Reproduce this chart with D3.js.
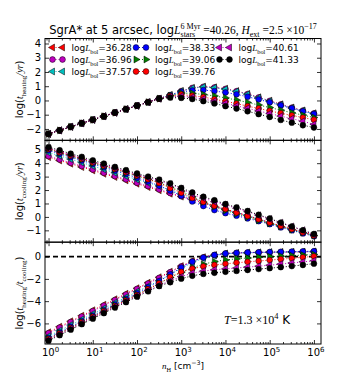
<!DOCTYPE html>
<html>
<head>
<meta charset="utf-8">
<script src="https://cdn.jsdelivr.net/npm/d3@7"></script>
<style>
  html, body { margin: 0; padding: 0; background: #fff; }
  svg { display: block; }
</style>
</head>
<body>
<div id="chart"></div>
<script>
(function() {

    // log10 of n_H grid (quarter decades)
    var logN = [0, 0.25, 0.5, 0.75, 1, 1.25, 1.5, 1.75, 2, 2.25, 2.5, 2.75, 3,
                3.25, 3.5, 3.75, 4, 4.25, 4.5, 4.75, 5, 5.25, 5.5, 5.75, 6];

    var lbol = ["36.28", "36.96", "37.57", "38.33", "39.06", "39.76", "40.61", "41.33"];

    // log(t_heating / yr), one row per L_bol
    var tHeat = [
        [-2.35, -2.1, -1.85, -1.6, -1.36, -1.11, -0.86, -0.61, -0.37, -0.12, 0.13, 0.38, 0.66, 0.88, 0.97, 0.92, 0.82, 0.66, 0.46, 0.22, -0.02, -0.27, -0.5, -0.7, -0.9],
        [-2.35, -2.1, -1.85, -1.6, -1.36, -1.11, -0.86, -0.61, -0.37, -0.12, 0.13, 0.38, 0.66, 0.88, 0.96, 0.91, 0.81, 0.65, 0.45, 0.21, -0.03, -0.28, -0.51, -0.71, -0.91],
        [-2.35, -2.1, -1.85, -1.6, -1.36, -1.11, -0.86, -0.61, -0.37, -0.12, 0.13, 0.37, 0.65, 0.86, 0.94, 0.89, 0.79, 0.63, 0.43, 0.19, -0.05, -0.3, -0.53, -0.73, -0.93],
        [-2.35, -2.1, -1.85, -1.6, -1.36, -1.11, -0.86, -0.61, -0.37, -0.12, 0.13, 0.36, 0.6, 0.7, 0.73, 0.66, 0.56, 0.43, 0.26, 0.07, -0.13, -0.35, -0.55, -0.76, -0.95],
        [-2.35, -2.1, -1.85, -1.6, -1.36, -1.11, -0.86, -0.61, -0.37, -0.12, 0.13, 0.33, 0.52, 0.5, 0.42, 0.32, 0.18, 0.03, -0.14, -0.32, -0.5, -0.68, -0.86, -1.03, -1.2],
        [-2.35, -2.1, -1.85, -1.6, -1.36, -1.11, -0.86, -0.61, -0.37, -0.12, 0.13, 0.3, 0.42, 0.33, 0.24, 0.08, -0.06, -0.22, -0.4, -0.56, -0.73, -0.9, -1.05, -1.2, -1.35],
        [-2.35, -2.1, -1.85, -1.6, -1.36, -1.11, -0.86, -0.61, -0.37, -0.12, 0.13, 0.26, 0.3, 0.22, 0.1, -0.05, -0.2, -0.38, -0.55, -0.74, -0.92, -1.1, -1.28, -1.46, -1.68],
        [-2.35, -2.1, -1.85, -1.6, -1.36, -1.11, -0.86, -0.61, -0.37, -0.12, 0.13, 0.2, 0.18, 0.1, -0.05, -0.21, -0.4, -0.57, -0.76, -0.96, -1.16, -1.37, -1.56, -1.74, -1.9]
    ];

    // log(t_cooling / yr)
    var tCool = [
        [4.45, 4.2, 3.96, 3.71, 3.46, 3.21, 2.97, 2.72, 2.47, 2.22, 1.98, 1.73, 1.51, 1.28, 1.02, 0.77, 0.54, 0.33, 0.1, -0.16, -0.42, -0.68, -0.92, -1.14, -1.36],
        [4.53, 4.28, 4.03, 3.79, 3.53, 3.29, 3.04, 2.8, 2.54, 2.3, 2.05, 1.78, 1.54, 1.31, 1.03, 0.77, 0.54, 0.33, 0.1, -0.16, -0.42, -0.68, -0.92, -1.14, -1.36],
        [4.8, 4.55, 4.3, 4.05, 3.79, 3.54, 3.29, 3.04, 2.78, 2.54, 2.3, 1.99, 1.7, 1.41, 1.09, 0.79, 0.54, 0.32, 0.09, -0.18, -0.44, -0.7, -0.95, -1.16, -1.38],
        [4.95, 4.7, 4.45, 4.2, 3.94, 3.69, 3.44, 3.19, 2.91, 2.63, 2.33, 1.96, 1.58, 1.15, 0.81, 0.51, 0.28, 0.09, -0.11, -0.32, -0.54, -0.78, -1.0, -1.23, -1.44],
        [5.03, 4.78, 4.53, 4.28, 4.02, 3.77, 3.53, 3.29, 3.04, 2.8, 2.55, 2.21, 1.92, 1.5, 1.1, 0.77, 0.48, 0.23, -0.02, -0.26, -0.49, -0.72, -0.95, -1.17, -1.39],
        [5.07, 4.82, 4.57, 4.32, 4.06, 3.82, 3.58, 3.34, 3.09, 2.81, 2.53, 2.15, 1.8, 1.41, 1.12, 0.83, 0.59, 0.33, 0.07, -0.17, -0.42, -0.67, -0.9, -1.14, -1.38],
        [5.12, 4.87, 4.62, 4.38, 4.12, 3.88, 3.64, 3.41, 3.16, 2.93, 2.71, 2.44, 2.1, 1.7, 1.4, 1.13, 0.9, 0.64, 0.39, 0.12, -0.15, -0.43, -0.71, -0.99, -1.31],
        [5.2, 4.96, 4.71, 4.47, 4.21, 3.97, 3.72, 3.48, 3.23, 3.0, 2.78, 2.5, 2.16, 1.82, 1.5, 1.24, 0.96, 0.71, 0.44, 0.16, -0.12, -0.42, -0.71, -0.99, -1.27]
    ];

    // log(t_heating / t_cooling)
    var tRatio = [
        [-6.8, -6.3, -5.81, -5.31, -4.82, -4.32, -3.83, -3.33, -2.84, -2.34, -1.85, -1.35, -0.85, -0.4, -0.05, 0.15, 0.28, 0.33, 0.36, 0.38, 0.4, 0.41, 0.42, 0.44, 0.46],
        [-6.88, -6.38, -5.88, -5.39, -4.89, -4.4, -3.9, -3.41, -2.91, -2.42, -1.92, -1.4, -0.88, -0.43, -0.07, 0.14, 0.27, 0.32, 0.35, 0.37, 0.39, 0.4, 0.41, 0.43, 0.45],
        [-7.15, -6.65, -6.15, -5.65, -5.15, -4.65, -4.15, -3.65, -3.15, -2.66, -2.17, -1.62, -1.05, -0.55, -0.15, 0.1, 0.25, 0.31, 0.34, 0.37, 0.39, 0.4, 0.42, 0.43, 0.45],
        [-7.3, -6.8, -6.3, -5.8, -5.3, -4.8, -4.3, -3.8, -3.28, -2.75, -2.2, -1.6, -0.98, -0.45, -0.08, 0.15, 0.28, 0.34, 0.37, 0.39, 0.41, 0.43, 0.45, 0.47, 0.49],
        [-7.38, -6.88, -6.38, -5.88, -5.38, -4.88, -4.39, -3.9, -3.41, -2.92, -2.42, -1.88, -1.4, -1.0, -0.68, -0.45, -0.3, -0.2, -0.12, -0.06, -0.01, 0.04, 0.09, 0.14, 0.19],
        [-7.42, -6.92, -6.42, -5.92, -5.42, -4.93, -4.44, -3.95, -3.46, -2.93, -2.4, -1.85, -1.38, -1.08, -0.88, -0.75, -0.65, -0.55, -0.47, -0.39, -0.31, -0.23, -0.15, -0.06, 0.03],
        [-7.47, -6.97, -6.47, -5.98, -5.48, -4.99, -4.5, -4.02, -3.53, -3.05, -2.58, -2.18, -1.8, -1.48, -1.3, -1.18, -1.1, -1.02, -0.94, -0.86, -0.77, -0.67, -0.57, -0.47, -0.37],
        [-7.55, -7.06, -6.56, -6.07, -5.57, -5.08, -4.58, -4.09, -3.6, -3.12, -2.65, -2.3, -1.98, -1.72, -1.55, -1.45, -1.36, -1.28, -1.2, -1.12, -1.04, -0.95, -0.85, -0.75, -0.63]
    ];

    var xMajor = [0, 1, 2, 3, 4, 5, 6];
    var yTicks1 = [-2, -1, 0, 1, 2, 3, 4];
    var yTicks2 = [-1, 0, 1, 2, 3, 4, 5];
    var yTicks3 = [-6, -4, -2, 0];

    // style per series (matplotlib classic letters)
    var colors = ["#ff0000", "#bf00bf", "#00bfbf", "#0000ff", "#008000", "#ff0000", "#bf00bf", "#000000"];
    var markers = ["left", "circle", "left", "circle", "right", "circle", "left", "circle"];

    var SANS = "'DejaVu Sans', sans-serif";
    var SERIF = "'Liberation Serif', 'DejaVu Serif', serif";

    var W = 357, H = 383;
    var left = 45, right = 321, top = 38.5, bottom = 344;
    var ph = (bottom - top) / 3;

    var svg = d3.select("#chart").append("svg")
        .attr("width", W)
        .attr("height", H);

    var x = d3.scaleLog()
        .domain([Math.pow(10, -0.08), Math.pow(10, 6.16)])
        .range([left, right]);

    // text with sub/superscripts built from tspans
    function rich(sel, parts, fs) {
        var shift = 0, prevLen = 0, pendDx = 0;
        parts.forEach(function(p) {
            var small = p.sub || p.sup;
            var sz = small ? fs * 0.7 : fs;
            var target = p.sub ? fs * 0.28 : (p.sup ? -fs * 0.42 : 0);
            var dx = pendDx + (p.stack ? -prevLen : 0);
            var ts = sel.append("tspan")
                .attr("dy", target - shift)
                .style("font-family", p.m ? SERIF : SANS)
                .style("font-style", p.i ? "italic" : "normal")
                .style("font-size", sz + "px")
                .text(p.t);
            if (dx) ts.attr("dx", dx);
            var len = ts.node().getComputedTextLength();
            pendDx = (p.stack && len < prevLen) ? prevLen - len : 0;
            prevLen = len;
            shift = target;
        });
    }

    var panels = [
        { data: tHeat, domain: [-2.8, 4.35], ticks: yTicks1,
          label: [{t: "log("}, {t: "t", m: 1, i: 1}, {t: "heating", m: 1, sub: 1}, {t: "/yr", m: 1, i: 1}, {t: ")"}] },
        { data: tCool, domain: [-1.88, 5.7], ticks: yTicks2,
          label: [{t: "log("}, {t: "t", m: 1, i: 1}, {t: "cooling", m: 1, sub: 1}, {t: "/yr", m: 1, i: 1}, {t: ")"}] },
        { data: tRatio, domain: [-7.85, 1.3], ticks: yTicks3,
          label: [{t: "log("}, {t: "t", m: 1, i: 1}, {t: "heating", m: 1, sub: 1}, {t: "/", m: 1, i: 1},
                  {t: "t", m: 1, i: 1}, {t: "cooling", m: 1, sub: 1}, {t: ")"}] }
    ];

    var triPath = d3.symbol().type(d3.symbolTriangle).size(21)();

    function drawMarker(g, kind, cx, cy, color) {
        if (kind === "circle") {
            g.append("circle")
                .attr("cx", cx).attr("cy", cy).attr("r", 2.9)
                .attr("fill", color)
                .attr("stroke", "#000").attr("stroke-width", 0.5);
        } else {
            g.append("path")
                .attr("d", triPath)
                .attr("transform", "translate(" + cx + "," + cy + ") rotate(" + (kind === "left" ? -90 : 90) + ")")
                .attr("fill", color)
                .attr("stroke", "#000").attr("stroke-width", 0.5);
        }
    }

    var minorVals = [];
    for (var k = -1; k <= 6; k++) {
        for (var m = 2; m <= 9; m++) {
            var v = m * Math.pow(10, k);
            if (v > x.domain()[0] && v < x.domain()[1]) minorVals.push(v);
        }
    }
    var majorVals = xMajor.map(function(e) { return Math.pow(10, e); });

    panels.forEach(function(p, pi) {
        var y0 = top + pi * ph, y1 = y0 + ph;
        var y = d3.scaleLinear().domain(p.domain).range([y1, y0]);

        var g = svg.append("g");

        // clip to panel
        var clipId = "clip" + pi;
        svg.append("clipPath").attr("id", clipId)
            .append("rect").attr("x", left).attr("y", y0).attr("width", right - left).attr("height", ph);

        var plot = g.append("g").attr("clip-path", "url(#" + clipId + ")");

        if (pi === 2) {
            plot.append("line")
                .attr("x1", left).attr("x2", right)
                .attr("y1", y(0)).attr("y2", y(0))
                .attr("stroke", "#000").attr("stroke-width", 1.6)
                .attr("stroke-dasharray", "5,3");
        }

        var line = d3.line()
            .x(function(d, i) { return x(Math.pow(10, logN[i])); })
            .y(function(d) { return y(d); });

        p.data.forEach(function(series, si) {
            var sg = plot.append("g");
            sg.append("path")
                .attr("d", line(series))
                .attr("fill", "none")
                .attr("stroke", colors[si])
                .attr("stroke-width", 1)
                .attr("stroke-dasharray", "1,2");
            series.forEach(function(d, i) {
                drawMarker(sg, markers[si], x(Math.pow(10, logN[i])), y(d), colors[si]);
            });
        });

        // ticks (inward, all four sides)
        var axB = g.append("g").attr("transform", "translate(0," + y1 + ")")
            .call(d3.axisBottom(x).tickValues(majorVals).tickSize(-4).tickFormat(""));
        var axBm = g.append("g").attr("transform", "translate(0," + y1 + ")")
            .call(d3.axisBottom(x).tickValues(minorVals).tickSize(-2).tickFormat(""));
        var axT = g.append("g").attr("transform", "translate(0," + y0 + ")")
            .call(d3.axisTop(x).tickValues(majorVals).tickSize(-4).tickFormat(""));
        var axTm = g.append("g").attr("transform", "translate(0," + y0 + ")")
            .call(d3.axisTop(x).tickValues(minorVals).tickSize(-2).tickFormat(""));
        var axL = g.append("g").attr("transform", "translate(" + left + ",0)")
            .call(d3.axisLeft(y).tickValues(p.ticks).tickSize(-4).tickPadding(4)
                .tickFormat(function(d) { return d < 0 ? "\u2212" + Math.abs(d) : d; }));
        var axR = g.append("g").attr("transform", "translate(" + right + ",0)")
            .call(d3.axisRight(y).tickValues(p.ticks).tickSize(-4).tickFormat(""));

        [axB, axBm, axT, axTm, axL, axR].forEach(function(a) {
            a.select(".domain").remove();
            a.selectAll("line").attr("stroke", "#000").attr("stroke-width", 0.8);
        });
        [axB, axBm, axT, axTm, axR].forEach(function(a) {
            a.selectAll("text").remove();
        });
        axL.selectAll("text")
            .style("font-family", SANS)
            .style("font-size", "10px")
            .attr("fill", "#000");

        g.append("rect")
            .attr("x", left).attr("y", y0)
            .attr("width", right - left).attr("height", ph)
            .attr("fill", "none").attr("stroke", "#000").attr("stroke-width", 1);

        // y label
        var yl = svg.append("text")
            .attr("transform", "translate(23," + ((y0 + y1) / 2) + ") rotate(-90)")
            .attr("text-anchor", "middle")
            .style("font-family", SANS)
            .style("font-size", "10px");
        rich(yl, p.label, 10);
    });

    // x tick labels on bottom panel
    xMajor.forEach(function(e) {
        var t = svg.append("text")
            .attr("x", x(Math.pow(10, e)) + 2)
            .attr("y", 356)
            .attr("text-anchor", "middle")
            .style("font-family", SANS)
            .style("font-size", "10px");
        rich(t, [{t: "10"}, {t: String(e), sup: 1}], 10);
    });

    // x label
    var xl = svg.append("text")
        .attr("x", (left + right) / 2)
        .attr("y", 369)
        .attr("text-anchor", "middle")
        .style("font-family", SANS)
        .style("font-size", "9px");
    rich(xl, [{t: "n", m: 1, i: 1}, {t: "H", m: 1, sub: 1}, {t: " [cm"}, {t: "\u22123", sup: 1}, {t: "]"}], 9);

    // title
    var title = svg.append("text")
        .attr("x", (left + right) / 2)
        .attr("y", 34)
        .attr("text-anchor", "middle")
        .style("font-family", SANS)
        .style("font-size", "11.5px");
    rich(title, [
        {t: "SgrA* at 5 arcsec, log"},
        {t: "L", m: 1, i: 1},
        {t: "6 Myr", m: 1, sup: 1},
        {t: "stars", m: 1, sub: 1, stack: 1},
        {t: " =40.26, ", m: 1},
        {t: "H", m: 1, i: 1},
        {t: "ext", m: 1, sub: 1},
        {t: " =2.5 \u00d710", m: 1},
        {t: "\u221217", m: 1, sup: 1}
    ], 11.5);

    // legend (3 columns, no frame)
    var legX = [52.5, 136, 219.5];
    var legY = [47.5, 59.5, 71.5];
    lbol.forEach(function(lb, si) {
        var col = Math.floor(si / 3), row = si % 3;
        var lx = legX[col], ly = legY[row];
        var lg = svg.append("g");
        lg.append("line")
            .attr("x1", lx).attr("x2", lx + 10)
            .attr("y1", ly).attr("y2", ly)
            .attr("stroke", colors[si]).attr("stroke-width", 1)
            .attr("stroke-dasharray", "1,2");
        drawMarker(lg, markers[si], lx, ly, colors[si]);
        drawMarker(lg, markers[si], lx + 10, ly, colors[si]);
        var t = lg.append("text")
            .attr("x", lx + 19)
            .attr("y", ly + 3.5)
            .style("font-family", SANS)
            .style("font-size", "9px");
        rich(t, [{t: "log"}, {t: "L", m: 1, i: 1}, {t: "bol", m: 1, sub: 1}, {t: "=" + lb}], 9);
    });

    // temperature note
    var note = svg.append("text")
        .attr("x", 224)
        .attr("y", 324)
        .style("font-family", SANS)
        .style("font-size", "12px");
    rich(note, [{t: "T", m: 1, i: 1}, {t: "=1.3 \u00d710", m: 1}, {t: "4", m: 1, sup: 1}, {t: "   K"}], 12);

})();
</script>
</body>
</html>
